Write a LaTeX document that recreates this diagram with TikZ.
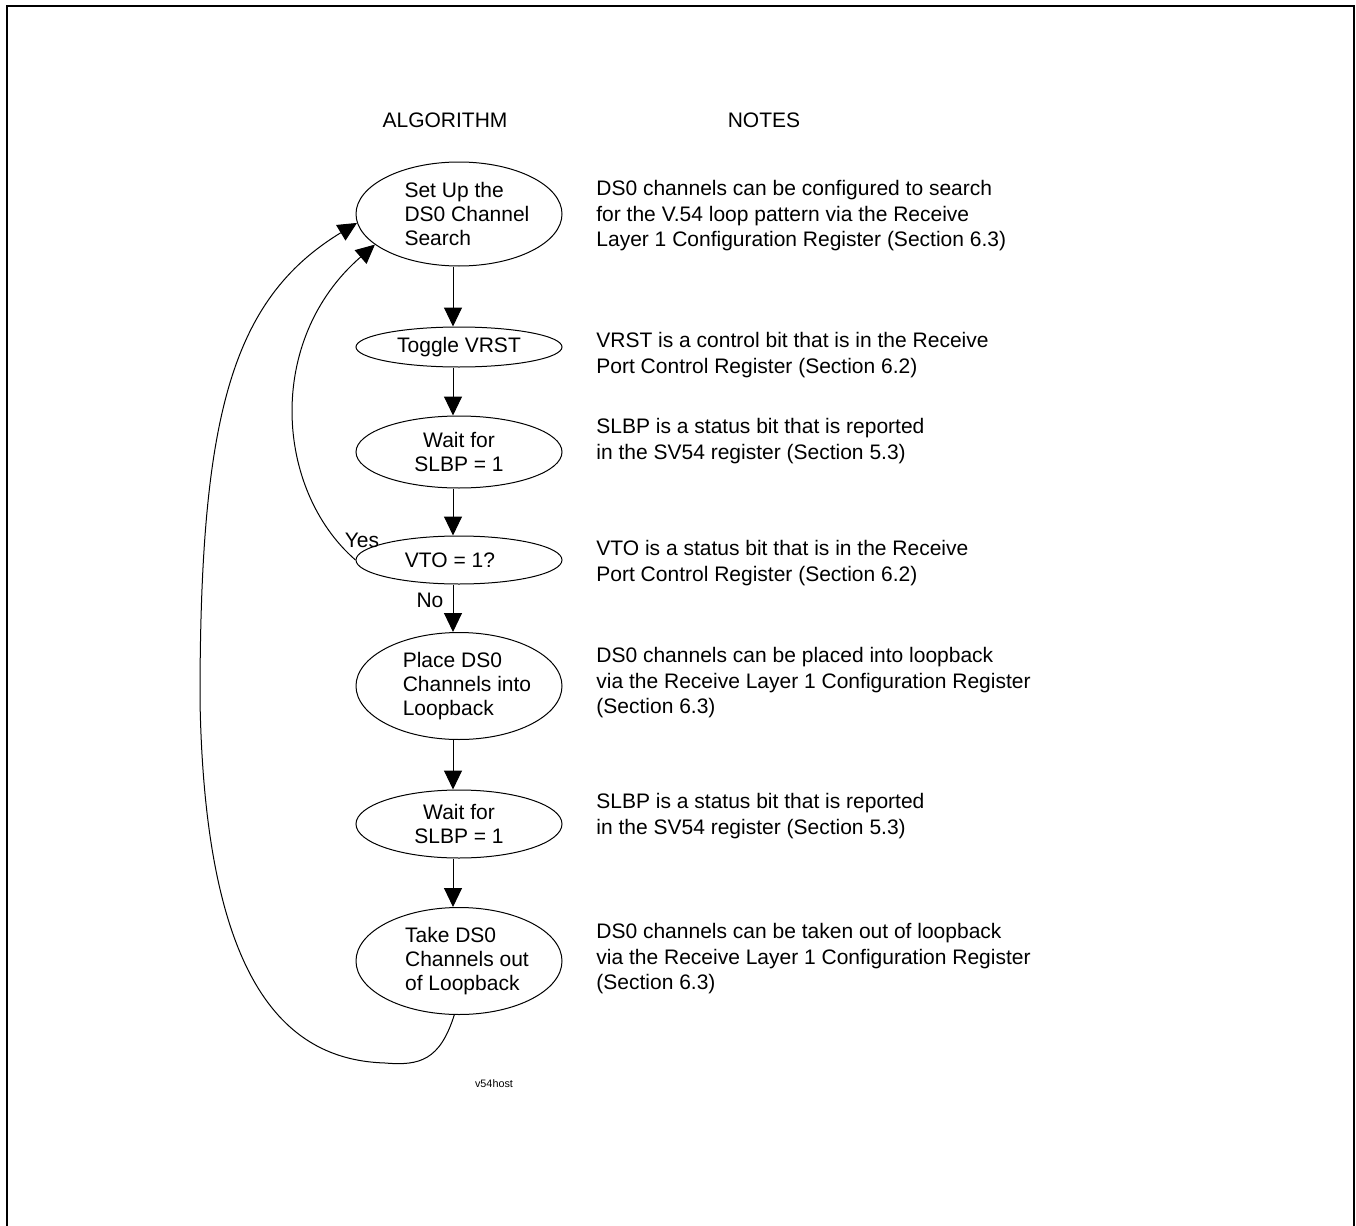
\documentclass[tikz,border=0pt]{standalone}
\usepackage{fontspec}
\setmainfont{Liberation Sans}
\usetikzlibrary{shapes.geometric,arrows.meta}
\newcommand{\lpad}{\kern8pt}
\begin{document}
\begin{tikzpicture}[x=0.5pt,y=-0.5pt,
  every node/.style={font=\fontsize{10.5pt}{12pt}\selectfont, inner sep=0pt},
  stepbox/.style={ellipse, draw, line width=0.5pt, minimum width=103pt, align=center},
  leftbox/.style={stepbox, align=left},
  note/.style={anchor=west, align=left, font=\fontsize{10.5pt}{12.75pt}\selectfont},
  arr/.style={line width=0.5pt, -{Triangle[length=9.5pt,width=9pt]}},
  down/.style={xshift=-3pt}]
\useasboundingbox (0,0) rectangle (1356,1226);
\draw[line width=1pt] (6.5,1230) -- (6.5,5.5) -- (1354,5.5) -- (1354,1230);

\node (hAlg) at (445,120) {ALGORITHM};
\node (hNotes) at (764,120) {NOTES};

\node[leftbox, minimum height=52pt] (e1) at (459,214) {\lpad Set Up the\\\lpad DS0 Channel\\\lpad Search};
\node[stepbox, minimum height=20pt] (e2) at (459,347) {Toggle VRST};
\node[stepbox, minimum height=36pt] (e3) at (459,452) {Wait for\\SLBP = 1};
\node[stepbox, minimum height=24pt] (e4) at (459,560) {VTO = 1?\kern9pt};
\node[leftbox, minimum height=53.5pt] (e5) at (459,686) {\lpad Place DS0\\\lpad Channels into\\\lpad Loopback};
\node[stepbox, minimum height=34pt] (e6) at (459,824) {Wait for\\SLBP = 1};
\node[leftbox, minimum height=53.5pt] (e7) at (459,961) {\lpad Take DS0\\\lpad Channels out\\\lpad of Loopback};

\draw[arr] ([down]e1.south) -- ([down]e2.north);
\draw[arr] ([down]e2.south) -- ([down]e3.north);
\draw[arr] ([down]e3.south) -- ([down]e4.north);
\draw[arr] ([down]e4.south) -- ([down]e5.north);
\draw[arr] ([down]e5.south) -- ([down]e6.north);
\draw[arr] ([down]e6.south) -- ([down]e7.north);

\draw[arr] (e4.west) .. controls (275,490) and (265,340) .. (e1.200);
\draw[arr] (e7.265) .. controls (440,1060) and (420,1066) .. (385,1063)
  .. controls (290,1060) and (205,990) .. (200,700)
  .. controls (200,420) and (230,300) .. (e1.185);

\node (yes) at (362,540) {Yes};
\node (no) at (430,600) {No};

\node[note] (n1) at (596,216) {DS0 channels can be configured to search\\for the V.54 loop pattern via the Receive\\Layer 1 Configuration Register (Section 6.3)};
\node[note] (n2) at (596,355) {VRST is a control bit that is in the Receive\\Port Control Register (Section 6.2)};
\node[note] (n3) at (596,441) {SLBP is a status bit that is reported\\in the SV54 register (Section 5.3)};
\node[note] (n4) at (596,563) {VTO is a status bit that is in the Receive\\Port Control Register (Section 6.2)};
\node[note] (n5) at (596,683) {DS0 channels can be placed into loopback\\via the Receive Layer 1 Configuration Register\\(Section 6.3)};
\node[note] (n6) at (596,816) {SLBP is a status bit that is reported\\in the SV54 register (Section 5.3)};
\node[note] (n7) at (596,959) {DS0 channels can be taken out of loopback\\via the Receive Layer 1 Configuration Register\\(Section 6.3)};

\node[font=\fontsize{5.4pt}{6pt}\selectfont] (tag) at (494,1084) {v54host};
\end{tikzpicture}
\end{document}
